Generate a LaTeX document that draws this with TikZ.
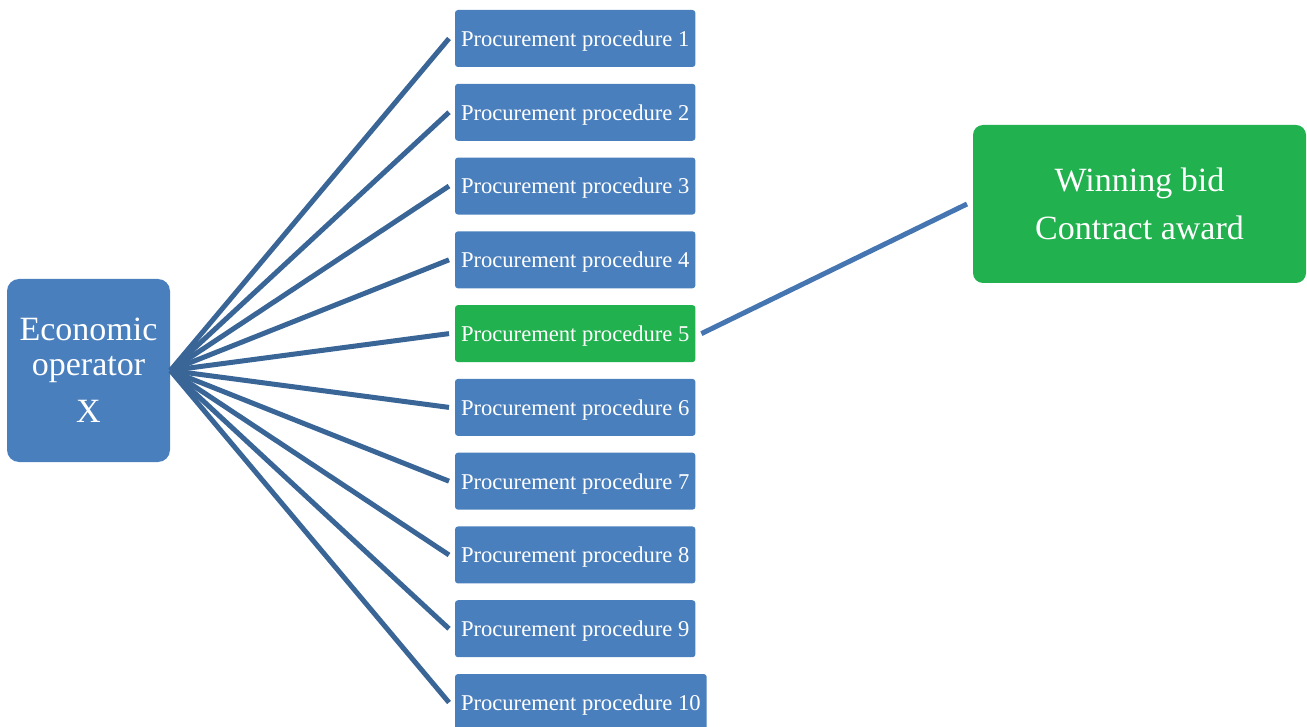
\documentclass[tikz,border=0pt]{standalone}
\usepackage{fontspec}
\setmainfont{Liberation Serif}
\usetikzlibrary{positioning}

\definecolor{boxblue}{HTML}{4A7FBE}
\definecolor{boxgreen}{HTML}{21B14E}
\definecolor{linkblue}{HTML}{3A6597}
\definecolor{winblue}{HTML}{4676B2}

\begin{document}
\begin{tikzpicture}[x=0.5pt,y=-0.5pt]
	\useasboundingbox (0,0) rectangle (1307,727);

	\begin{scope}[every node/.style={text=white,inner sep=0pt}]
		\node[fill=boxblue,rounded corners=6pt,minimum width=81.5pt,minimum height=91.5pt,
			align=center,font=\fontsize{17}{17.5}\selectfont]
			(eo) at (88.5,370.5) {Economic\\operator\\[6pt]X};
		\foreach \i/\col in {1/boxblue,2/boxblue,3/boxblue,4/boxblue,5/boxgreen,
			6/boxblue,7/boxblue,8/boxblue,9/boxblue,10/boxblue}
			\node[fill=\col,rounded corners=1.5pt,inner xsep=3pt,outer xsep=3pt,
				minimum height=28.5pt,text depth=0pt,anchor=west,
				font=\fontsize{11.3}{13}\selectfont]
				(p\i) at (449,{38.5+(\i-1)*73.78}) {Procurement procedure \i};
		\node[fill=boxgreen,rounded corners=5pt,minimum width=166.5pt,minimum height=79pt,
			outer xsep=3pt,align=center,font=\fontsize{17}{17.5}\selectfont]
			(win) at (1139.5,204) {Winning bid\\[6.5pt]Contract award};
	\end{scope}

	\begin{scope}[line width=2.5pt]
		\foreach \i in {1,...,10}
			\path[draw=linkblue] (eo.east) edge (p\i.west);
		\path[draw=winblue] (p5.east) edge (win.west);
	\end{scope}
\end{tikzpicture}
\end{document}
